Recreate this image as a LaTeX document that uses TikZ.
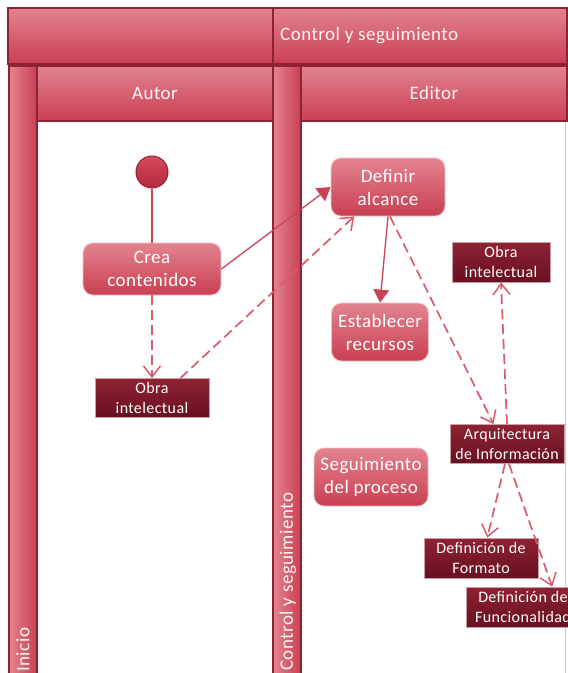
\documentclass[tikz,border=0pt]{standalone}
\usepackage{fontspec}
\setmainfont{Carlito}[LetterSpace=2.5]
\usetikzlibrary{arrows.meta}

\definecolor{laneTop}{HTML}{E3838F}
\definecolor{laneBot}{HTML}{C93F52}
\definecolor{laneEdge}{HTML}{8E2232}
\definecolor{actEdge}{HTML}{F2C2C9}
\definecolor{objTop}{HTML}{8E2333}
\definecolor{objBot}{HTML}{681020}
\definecolor{objEdge}{HTML}{C9A0A8}
\definecolor{flow}{HTML}{C94257}
\definecolor{dep}{HTML}{DB5A6C}
\definecolor{bodyEdge}{HTML}{C8C8C8}
\definecolor{startTop}{HTML}{D54A5D}
\definecolor{startBot}{HTML}{B6273B}

\tikzset{
  lanehead/.style={draw=laneEdge, line width=1.2pt, top color=laneTop, bottom color=laneBot},
  laneside/.style={draw=laneEdge, line width=1.2pt, left color=laneTop, right color=laneBot},
  lanetitle/.style={text=white!92!laneTop, font=\fontsize{19}{22}\selectfont, inner sep=0pt},
  action/.style={rounded corners=10pt, draw=actEdge, line width=0.8pt,
    top color=laneTop, bottom color=laneBot, text=white, align=center,
    font=\fontsize{19}{23}\selectfont, inner sep=0pt},
  objectbox/.style={draw=objEdge, line width=0.8pt, top color=objTop, bottom color=objBot,
    text=white, align=center, font=\fontsize{16}{20}\selectfont, inner sep=0pt,
    minimum width=114pt, minimum height=39pt},
  initial/.style={circle, draw=laneEdge, line width=1pt, top color=startTop,
    bottom color=startBot, minimum size=32pt, inner sep=0pt},
  flowline/.style={draw=flow, line width=1.3pt},
  depline/.style={draw=dep, line width=1.7pt, dash pattern=on 10pt off 5pt,
    -{Straight Barb[length=11pt,width=17pt,line width=1.5pt]}},
  flowarrow/.style={flowline, -{Triangle[length=13pt,width=16pt]}},
}

\begin{document}
\begin{tikzpicture}[x=1pt,y=-1pt]
  \useasboundingbox (0,0) rectangle (568,673);
  \clip (0,0) rectangle (568,673);
  \fill[white] (0,0) rectangle (568,673);

  % swimlane frame
  \path[lanehead] (8,8) rectangle (273,64);
  \path[lanehead] (273,8) rectangle (567,64);
  \node[lanetitle, anchor=west] (grouptitle) at (280,36) {Control y seguimiento};

  % lane bodies
  \draw[laneEdge, line width=1pt, fill=white] (37,121) rectangle (273,690);
  \draw[bodyEdge, line width=1pt, fill=white] (301,121) rectangle (565,690);

  % lane headers and side bars
  \path[laneside] (9,66) rectangle (37,690);
  \path[lanehead] (37,66) rectangle (273,121);
  \path[laneside] (273,66) rectangle (301,690);
  \path[lanehead] (301,66) rectangle (567,121);

  \node[lanetitle] (autor) at (155,93) {Autor};
  \node[lanetitle] (editor) at (434,93) {Editor};
  \node[lanetitle, rotate=90, anchor=west] (inicio) at (23,672) {Inicio};
  \node[lanetitle, rotate=90, anchor=west] (control) at (288,671) {Control y seguimiento};

  % activities
  \node[initial] (start) at (152,172) {};
  \node[action, minimum width=138pt, minimum height=52pt] (crea) at (152,269) {Crea\\contenidos};
  \node[objectbox] (obraA) at (152,398) {Obra\\intelectual};
  \node[action, minimum width=114pt, minimum height=58pt] (definir) at (388,187) {Definir\\alcance};
  \node[action, minimum width=97pt, minimum height=58pt] (establecer) at (380,332) {Establecer\\recursos};
  \node[action, minimum width=114pt, minimum height=58pt] (seguimiento) at (371,477) {Seguimiento\\del proceso};
  \node[objectbox, minimum width=98pt, minimum height=40pt] (obraB) at (501,262) {Obra\\intelectual};
  \node[objectbox] (arq) at (507,444) {Arquitectura\\de Información};
  \node[objectbox, minimum height=40pt] (formato) at (481,558) {Definición de\\Formato};
  \node[objectbox, minimum height=40pt] (func) at (523,607) {Definición de\\Funcionalidad};

  % control flow
  \draw[flowline] (start) -- (crea);
  \draw[flowarrow] (crea.east) -- (definir.west);
  \draw[flowarrow] (definir.south) -- (establecer.north);

  % object flow
  \draw[depline] (crea.south) -- (obraA.north);
  \draw[depline] (obraA.35) -- (definir.221);
  \draw[depline] ([xshift=2pt]definir.south) -- (arq.124);
  \draw[depline] (arq.north) -- (obraB.south);
  \draw[depline] ([xshift=-2pt]arq.south) -- (formato.73);
  \draw[depline] ([xshift=2pt]arq.south) -- (func.35);
\end{tikzpicture}
\end{document}
